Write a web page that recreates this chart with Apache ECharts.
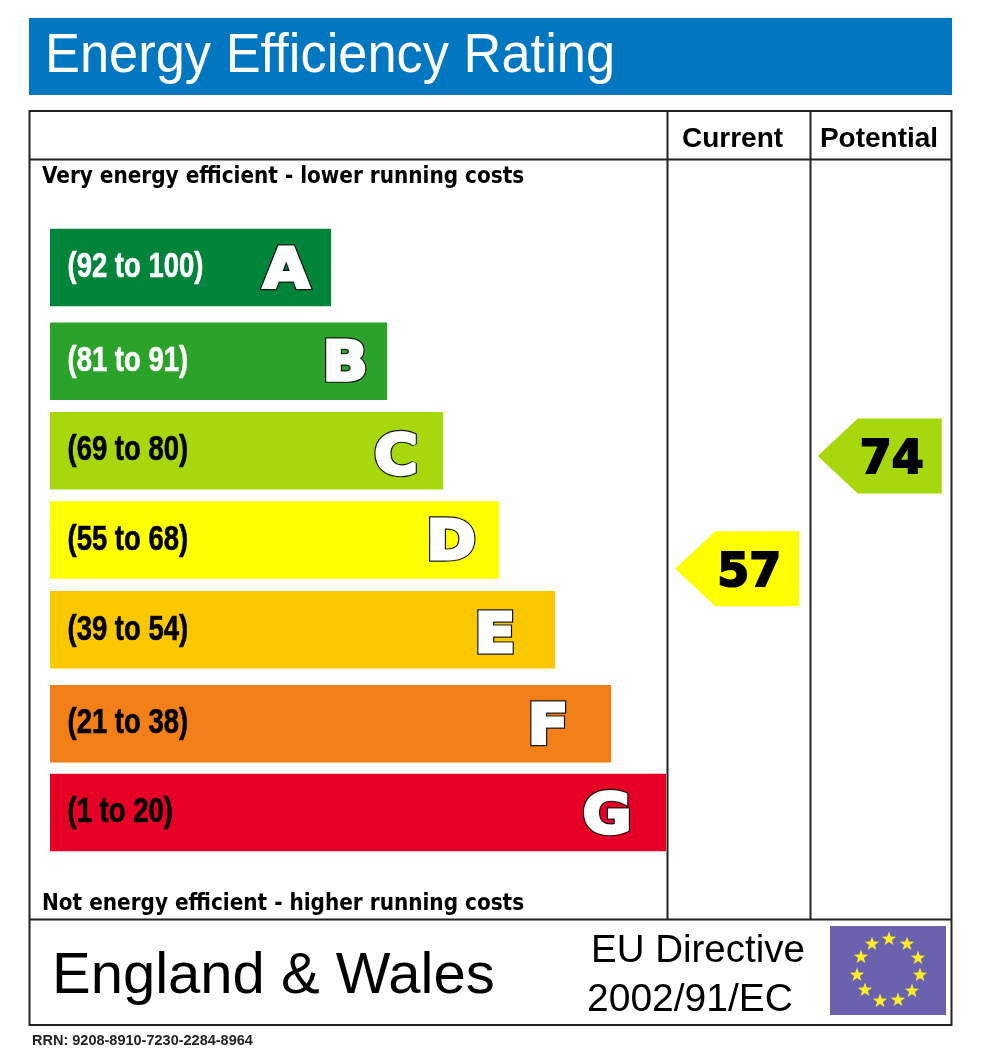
<!DOCTYPE html>
<html>
<head>
<meta charset="utf-8">
<title>Energy Efficiency Rating</title>
<script src="https://cdn.jsdelivr.net/npm/echarts@6/dist/echarts.min.js"></script>
<style>
    html, body { margin: 0; padding: 0; background: #fff; }
    #main { width: 992px; height: 1050px; }
</style>
</head>
<body>
<div id="main"></div>
<script>
// band data, top to bottom
var bandLetters = ['A', 'B', 'C', 'D', 'E', 'F', 'G'];
var bandRanges = ['(92 to 100)', '(81 to 91)', '(69 to 80)', '(55 to 68)', '(39 to 54)', '(21 to 38)', '(1 to 20)'];
var bandSteps = [5.02, 6.02, 7.02, 8.02, 9.02, 10.02, 11];

// scores
var scoreColumns = ['Current', 'Potential'];
var scoreValues = [57, 74];

// colours and small hand placed offsets, not data
var bandColors = ['#00843a', '#2ba32b', '#a7d70d', '#ffff00', '#fbc800', '#f27f17', '#e60026'];
var bandTextColors = ['#fff', '#fff', '#000', '#000', '#000', '#000', '#000'];
var bandNudge = [0, 3, 1.6, 0, -1, 2, 0];
var letterInset = [45, 42, 47, 48, 60, 63, 59];
var letterNudge = [5, 4, 8, 4, 8, 5, 5];
var scoreArrowColors = ['#ffff00', '#a7d70d'];

var LINE = '#222';
var sansBold = 'bold 22.3px "DejaVu Sans Condensed", "DejaVu Sans"';
var headBold = 'bold 28px "Liberation Sans"';

function linha(x1, y1, x2, y2) {
    return { type: 'line', shape: { x1: x1, y1: y1, x2: x2, y2: y2 }, style: { stroke: LINE, lineWidth: 2 } };
}

function texto(txt, x, y, font, fill, align) {
    return {
        type: 'text', x: x, y: y, z: 5,
        style: { text: txt, font: font, fill: fill || '#000', textAlign: align || 'left', textVerticalAlign: 'middle' }
    };
}

var titulo = texto('Energy Efficiency Rating', 45, 57, '56px "Liberation Sans"', '#fff');
titulo.scaleX = 0.936;

var grafico = [
    { type: 'rect', shape: { x: 29, y: 18, width: 923, height: 77 }, style: { fill: '#0077c0' } },
    titulo,

    { type: 'rect', shape: { x: 29.5, y: 111, width: 922, height: 914 }, style: { fill: 'none', stroke: LINE, lineWidth: 2 } },
    linha(29, 159.5, 952, 159.5),
    linha(29, 919.5, 952, 919.5),
    linha(667.5, 111, 667.5, 919.5),
    linha(810.5, 111, 810.5, 919.5),

    texto(scoreColumns[0], 732.5, 139, headBold, '#000', 'center'),
    texto(scoreColumns[1], 879, 139, headBold, '#000', 'center'),
    texto('Very energy efficient - lower running costs', 42, 177, sansBold),
    texto('Not energy efficient - higher running costs', 42, 904, sansBold),

    texto('England & Wales', 52, 977, '58px "Liberation Sans"'),
    texto('EU Directive', 591, 951, '38.5px "Liberation Sans"'),
    texto('2002/91/EC', 587, 1000, '39px "Liberation Sans"'),
    texto('RRN: 9208-8910-7230-2284-8964', 32, 1041, 'bold 14.5px "Liberation Sans"', '#222'),

    { type: 'rect', shape: { x: 830, y: 926, width: 116, height: 89 }, style: { fill: '#6a62ae' } }
];

// stars of the flag
var estrelas = [[889, 939], [872, 944], [907, 944], [861, 957], [918, 958], [857, 975],
    [920, 975], [865, 990], [912, 991], [880, 1001], [898, 1000]];
estrelas.forEach(function (e) {
    var pontos = [];
    for (var p = 0; p < 10; p++) {
        var r = p % 2 === 0 ? 7.5 : 3;
        var a = p * Math.PI / 5 - Math.PI / 2;
        pontos.push([e[0] + r * Math.cos(a), e[1] + r * Math.sin(a)]);
    }
    grafico.push({ type: 'polygon', shape: { points: pontos }, style: { fill: '#ffee22' }, z: 4 });
});

function desenhaFaixa(params, api) {
    var i = params.dataIndex;
    var fim = api.coord([api.value(0), i]);
    var ini = api.coord([0, i]);
    var y = fim[1] + bandNudge[i];
    var altura = 77.5;
    var letraX = fim[0] - letterInset[i];
    var letraY = y + letterNudge[i];
    return {
        type: 'group',
        children: [
            {
                type: 'rect',
                shape: { x: ini[0], y: y - altura / 2, width: fim[0] - ini[0], height: altura },
                style: { fill: bandColors[i] }
            },
            {
                // no narrow font here, so squeeze the bold one
                type: 'text',
                x: ini[0] + 17.5,
                y: y,
                scaleX: 0.785,
                style: {
                    x: 0, y: 0, text: bandRanges[i], fill: bandTextColors[i],
                    stroke: bandTextColors[i], lineWidth: 0.6,
                    font: 'bold 35px "Liberation Sans"', textAlign: 'left', textVerticalAlign: 'middle'
                }
            },
            {
                type: 'text',
                x: letraX,
                y: letraY,
                scaleX: 1.06,
                style: {
                    x: 0, y: 0, text: bandLetters[i], fill: '#111',
                    stroke: '#111', lineWidth: 5.5, lineJoin: 'round',
                    font: 'bold 56px "DejaVu Sans"', textAlign: 'center', textVerticalAlign: 'middle'
                }
            },
            {
                type: 'text',
                x: letraX,
                y: letraY,
                scaleX: 1.06,
                style: {
                    x: 0, y: 0, text: bandLetters[i], fill: '#fff',
                    stroke: '#fff', lineWidth: 3.2, lineJoin: 'round',
                    font: 'bold 56px "DejaVu Sans"', textAlign: 'center', textVerticalAlign: 'middle'
                }
            }
        ]
    };
}

function desenhaSeta(params, api) {
    var i = params.dataIndex;
    var c = api.coord([i, api.value(1)]);
    var meia = 37.5;
    return {
        type: 'group',
        children: [
            {
                type: 'polygon',
                shape: {
                    points: [
                        [c[0] - 64, c[1]],
                        [c[0] - 24, c[1] - meia],
                        [c[0] + 60, c[1] - meia],
                        [c[0] + 60, c[1] + meia],
                        [c[0] - 24, c[1] + meia]
                    ]
                },
                style: { fill: scoreArrowColors[i] }
            },
            {
                type: 'text',
                style: {
                    x: c[0] + 10, y: c[1] + 5, text: String(api.value(1)), fill: '#000',
                    stroke: '#000', lineWidth: 2,
                    font: 'bold 46px "DejaVu Sans"', textAlign: 'center', textVerticalAlign: 'middle'
                }
            }
        ]
    };
}

echarts.init(document.getElementById('main')).setOption({
    animation: false,
    backgroundColor: '#fff',
    graphic: grafico,
    grid: [
        { left: 50, top: 222, width: 616, height: 636 },
        { left: 668, top: 284, width: 285, height: 662 }
    ],
    xAxis: [
        { type: 'value', gridIndex: 0, min: 0, max: 11, show: false },
        { type: 'category', gridIndex: 1, data: scoreColumns, show: false }
    ],
    yAxis: [
        { type: 'category', gridIndex: 0, data: bandLetters, inverse: true, show: false },
        { type: 'value', gridIndex: 1, min: 0, max: 100, show: false }
    ],
    series: [
        {
            type: 'custom',
            name: 'Bands',
            xAxisIndex: 0,
            yAxisIndex: 0,
            renderItem: desenhaFaixa,
            encode: { x: 0, y: 1 },
            data: bandSteps.map(function (v, i) { return [v, i]; }),
            z: 3
        },
        {
            type: 'custom',
            name: 'Scores',
            xAxisIndex: 1,
            yAxisIndex: 1,
            renderItem: desenhaSeta,
            encode: { x: 0, y: 1 },
            data: scoreValues.map(function (v, i) { return [i, v]; }),
            z: 3
        }
    ]
});
</script>
</body>
</html>
